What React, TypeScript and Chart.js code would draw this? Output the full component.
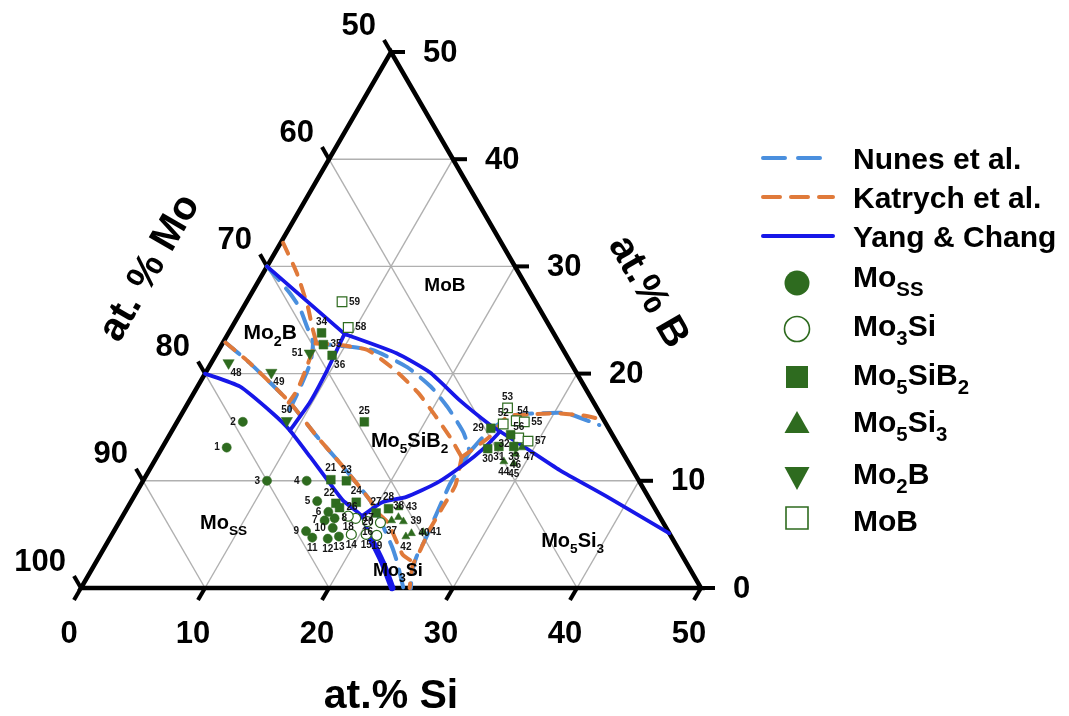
import React, { useEffect, useRef } from 'react';
import { Chart, registerables } from 'chart.js';

Chart.register(...registerables);

// ---------- axis ticks (at.%) ----------
const gridSteps = [10, 20, 30, 40];
const siTicks = [0, 10, 20, 30, 40, 50];
const moTicks = [50, 60, 70, 80, 90, 100];
const bTicks = [50, 40, 30, 20, 10, 0];

// ---------- sample points: [at.% Si, at.% B] ----------
const mossIds = [1, 2, 3, 4, 5, 6, 7, 8, 9, 10, 11, 12, 13];
const mossPts = [[5.2, 13.1], [5.3, 15.5], [10.0, 10.0], [13.2, 10.0], [15.0, 8.1], [16.4, 7.1], [16.5, 6.3], [17.2, 6.5], [15.5, 5.3], [17.5, 5.6], [16.3, 4.7], [17.6, 4.6], [18.4, 4.8]];

const mo3siIds = [14, 15, 16, 17, 18, 19, 20];
const mo3siPts = [[19.3, 5.0], [20.5, 5.0], [20.0, 6.2], [18.9, 6.5], [18.2, 6.7], [21.4, 4.9], [21.1, 6.1]];

const mo5sib2Ids = [21, 22, 23, 24, 25, 26, 27, 28, 29, 30, 31, 32, 33, 34, 35, 36];
const mo5sib2Pts = [[15.1, 10.1], [16.6, 7.9], [16.4, 10.0], [18.2, 8.0], [15.1, 15.5], [17.1, 7.5], [20.3, 7.0], [21.1, 7.4], [25.6, 14.9], [26.3, 13.0], [27.1, 13.2], [27.5, 14.3], [28.3, 13.2], [7.5, 23.8], [8.2, 22.7], [9.4, 21.7]];

const mo5si3Ids = [37, 38, 39, 40, 41, 42, 43, 44, 45, 46, 47];
const mo5si3Pts = [[21.9, 6.3], [22.3, 6.6], [22.9, 6.2], [24.1, 5.1], [25.0, 5.2], [23.8, 4.8], [21.9, 7.5], [28.2, 11.8], [29.1, 11.6], [28.8, 12.5], [29.0, 13.1]];

const mo2bIds = [48, 49, 50, 51];
const mo2bPts = [[1.4, 21.0], [5.3, 20.1], [8.8, 15.6], [7.5, 21.9]];

const mobIds = [52, 53, 54, 55, 56, 57, 58, 59];
const mobPts = [[26.4, 15.3], [26.0, 16.8], [27.3, 15.6], [28.0, 15.5], [28.3, 14.0], [29.2, 13.7], [9.4, 24.3], [7.7, 26.7]];

// ---------- phase boundaries: polylines of [at.% Si, at.% B] ----------
const nunesLines = [
  [[0, 30], [3.1, 27.5], [4.6, 26.1], [6.1, 24.3], [7.2, 23.0], [8.0, 21.0], [8.4, 18.0], [8.5, 16.6]],
  [[7.2, 23.0], [8.7, 22.7], [12.4, 22.2], [16.0, 20.6], [18.8, 18.8], [21.1, 16.9], [23.6, 14.5], [25.0, 12.7]],
  [[25.0, 12.7], [25.6, 14.7], [26.9, 16.1], [28.9, 16.3], [31.0, 16.3], [34.2, 15.2]],
  [[25.0, 12.7], [24.9, 9.8], [25.2, 7.0], [25.5, 4.5], [25.6, 2.9], [26.0, 1.4], [26.6, 0]],
  [[0.2, 22.9], [3.1, 21.0], [8.2, 17.3], [12.0, 14.1], [15.5, 11.3], [19.2, 8.2], [20.3, 7.1], [21.8, 5.4], [23.2, 3.8], [24.3, 2.4], [25.5, 0.7], [26.0, 0]],
];

const katrychLines = [
  [[0.2, 32.2], [2.7, 29.4], [5.2, 26.2], [6.5, 24.3], [7.5, 22.9], [7.6, 22.2], [7.9, 20.6], [8.2, 18.5], [8.1, 17.3]],
  [[7.5, 22.8], [9.3, 22.7], [12.0, 22.2], [15.2, 20.3], [18.1, 18.2], [20.5, 16.1], [22.7, 14.1], [24.6, 12.2]],
  [[24.6, 12.2], [25.9, 14.1], [26.4, 16.0], [28.1, 16.2], [30.2, 16.3], [32.4, 16.1], [34.3, 15.7]],
  [[24.6, 12.2], [25.4, 9.6], [25.4, 7.6], [25.4, 5.4], [25.6, 3.5], [25.7, 2.1], [26.5, 0]],
  [[0.2, 22.9], [3.1, 21.0], [8.2, 17.3], [12.0, 14.1], [15.5, 11.3], [19.2, 8.2], [20.3, 7.1], [21.7, 6.1], [23.4, 4.2], [24.4, 3.1], [25.6, 2.4]],
];

const yangLines = [
  [[0, 30], [9.4, 23.7]],
  [[9.4, 23.7], [14.5, 21.9], [18.1, 20.1], [21.8, 17.5], [25.4, 15.2], [26.5, 14.6], [29.1, 13.2], [33.1, 11.0], [38.2, 8.5], [44.9, 5.1]],
  [[9.4, 23.7], [9.7, 20.3], [9.8, 17.3], [9.5, 14.7]],
  [[0, 20], [3.4, 18.8], [7.3, 16.3], [9.5, 14.7], [12.4, 12.2], [14.8, 10.1], [17.0, 8.2], [19.3, 6.7], [20.9, 4.8], [23.2, 2.3], [25.1, 0]],
  [[19.3, 6.7], [20.3, 8.0], [22.0, 8.5], [23.8, 9.8], [25.1, 11.5], [26.0, 13.1], [26.5, 14.6]],
];
const yangThick = [[20.9, 4.8], [23.2, 2.3], [25.1, 0]];

// ---------- styling ----------
const FONT = '"Liberation Sans", Arial, Helvetica, sans-serif';
const GREEN = '#2e6b1f';
const NUNES = '#4a8fde';
const KATRYCH = '#e07a3a';
const YANG = '#1717e8';

const labelSide: Record<number, string> = {
  1: 'l', 2: 'l', 3: 'l', 4: 'l', 5: 'l', 6: 'l', 7: 'l', 8: 'r', 9: 'l', 10: 'l', 11: 'b', 12: 'b', 13: 'b',
  14: 'b', 15: 'b', 16: 'b', 17: 'r', 18: 'b', 19: 'b', 20: 'l',
  21: 't', 22: 'tl', 23: 't', 24: 't', 25: 't', 26: 'r', 27: 't', 28: 't', 29: 'l', 30: 'b', 31: 'b', 32: 'bl', 33: 'b', 34: 't', 35: 'r', 36: 'br',
  37: 'b', 38: 't', 39: 'r', 40: 'r', 41: 'r', 42: 'b', 43: 'r', 44: 'b', 45: 'b', 46: 'b', 47: 'br',
  48: 'br', 49: 'br', 50: 't', 51: 'l',
  52: 't', 53: 't', 54: 'tr', 55: 'r', 56: 't', 57: 'r', 58: 'r', 59: 'r',
};

type Part = { t: string; sub?: boolean };
const regionLabels: { parts: Part[]; si: number; b: number; size: number }[] = [
  { parts: [{ t: 'MoB' }], si: 15.2, b: 28.3, size: 19 },
  { parts: [{ t: 'Mo' }, { t: '2', sub: true }, { t: 'B' }], si: 3.3, b: 23.9, size: 21 },
  { parts: [{ t: 'Mo' }, { t: '5', sub: true }, { t: 'SiB' }, { t: '2', sub: true }], si: 19.6, b: 13.8, size: 20 },
  { parts: [{ t: 'Mo' }, { t: 'SS', sub: true }], si: 8.4, b: 6.2, size: 20 },
  { parts: [{ t: 'Mo' }, { t: '5', sub: true }, { t: 'Si' }, { t: '3', sub: true }], si: 37.4, b: 4.5, size: 20 },
  { parts: [{ t: 'Mo' }, { t: '3', sub: true }, { t: 'Si' }], si: 24.7, b: 1.7, size: 18 },
];

const toXY = (pts: number[][]) => pts.map(([si, b]) => ({ x: si + b / 2, y: b }));

function drawRich(ctx: CanvasRenderingContext2D, parts: Part[], x: number, yc: number, size: number, align: 'left' | 'center') {
  const sub = size * 0.68;
  let w = 0;
  parts.forEach((p) => {
    ctx.font = `bold ${p.sub ? sub : size}px ${FONT}`;
    w += ctx.measureText(p.t).width;
  });
  let cx = align === 'center' ? x - w / 2 : x;
  const base = yc + size * 0.358;
  ctx.textAlign = 'left';
  ctx.textBaseline = 'alphabetic';
  parts.forEach((p) => {
    ctx.font = `bold ${p.sub ? sub : size}px ${FONT}`;
    ctx.fillText(p.t, cx, p.sub ? base + size * 0.3 : base);
    cx += ctx.measureText(p.t).width;
  });
}

function drawMarker(ctx: CanvasRenderingContext2D, kind: string, x: number, y: number) {
  ctx.save();
  ctx.fillStyle = GREEN;
  ctx.strokeStyle = GREEN;
  ctx.lineWidth = 1.6;
  ctx.beginPath();
  if (kind === 'circle') {
    ctx.arc(x, y, 12.5, 0, Math.PI * 2);
    ctx.fill();
  } else if (kind === 'ocircle') {
    ctx.arc(x, y, 12.5, 0, Math.PI * 2);
    ctx.fillStyle = '#fff';
    ctx.fill();
    ctx.stroke();
  } else if (kind === 'rect') {
    ctx.rect(x - 11, y - 11, 22, 22);
    ctx.fill();
  } else if (kind === 'orect') {
    ctx.rect(x - 11, y - 11, 22, 22);
    ctx.fillStyle = '#fff';
    ctx.fill();
    ctx.stroke();
  } else if (kind === 'tri') {
    ctx.moveTo(x, y - 12);
    ctx.lineTo(x + 12.5, y + 10);
    ctx.lineTo(x - 12.5, y + 10);
    ctx.closePath();
    ctx.fill();
  } else if (kind === 'dtri') {
    ctx.moveTo(x - 12.5, y - 11);
    ctx.lineTo(x + 12.5, y - 11);
    ctx.lineTo(x, y + 12);
    ctx.closePath();
    ctx.fill();
  }
  ctx.restore();
}

const ternaryPlugin = {
  id: 'ternaryFrame',
  beforeDatasetsDraw(chart: any) {
    const ctx: CanvasRenderingContext2D = chart.ctx;
    const P = (si: number, b: number) => [chart.scales.x.getPixelForValue(si + b / 2), chart.scales.y.getPixelForValue(b)];
    const seg = (a: number[], c: number[]) => {
      ctx.beginPath();
      ctx.moveTo(a[0], a[1]);
      ctx.lineTo(c[0], c[1]);
      ctx.stroke();
    };
    ctx.save();
    ctx.strokeStyle = '#b0b0b0';
    ctx.lineWidth = 1.4;
    gridSteps.forEach((k) => {
      seg(P(0, k), P(50 - k, k));
      seg(P(k, 0), P(k, 50 - k));
      seg(P(k, 0), P(0, k));
    });
    ctx.strokeStyle = '#000';
    ctx.lineWidth = 4.5;
    ctx.lineJoin = 'miter';
    ctx.beginPath();
    const a = P(0, 0), b = P(50, 0), c = P(0, 50);
    ctx.moveTo(a[0], a[1]);
    ctx.lineTo(b[0], b[1]);
    ctx.lineTo(c[0], c[1]);
    ctx.closePath();
    ctx.stroke();
    ctx.lineWidth = 4;
    const L = 14, cx = 0.5, sy = Math.sqrt(3) / 2;
    siTicks.forEach((v) => { const p = P(v, 0); seg(p, [p[0] - cx * L, p[1] + sy * L]); });
    moTicks.forEach((m) => { const p = P(0, 100 - m); seg(p, [p[0] - cx * L, p[1] - sy * L]); });
    bTicks.forEach((v) => { const p = P(50 - v, v); seg(p, [p[0] + L, p[1]]); });

    ctx.fillStyle = '#000';
    ctx.font = `bold 31px ${FONT}`;
    ctx.textBaseline = 'middle';
    ctx.textAlign = 'right';
    moTicks.forEach((m) => { const p = P(0, 100 - m); ctx.fillText(String(m), p[0] - 15, p[1] - 26); });
    ctx.textAlign = 'left';
    bTicks.forEach((v) => { const p = P(50 - v, v); ctx.fillText(String(v), p[0] + 32, p[1] + 1); });
    ctx.textAlign = 'center';
    siTicks.forEach((v) => { const p = P(v, 0); ctx.fillText(String(v), p[0] - 12, p[1] + 46); });

    // axis titles
    ctx.font = `bold 40px ${FONT}`;
    ctx.save();
    ctx.translate(150, 268);
    ctx.rotate(-Math.PI / 3);
    ctx.fillText('at. % Mo', 0, 0);
    ctx.restore();
    ctx.save();
    ctx.translate(648, 292);
    ctx.rotate(Math.PI / 3);
    ctx.fillText('at.% B', 0, 0);
    ctx.restore();
    ctx.font = `bold 41px ${FONT}`;
    ctx.fillText('at.% Si', 391, 697);
    ctx.restore();
  },
  afterDatasetsDraw(chart: any) {
    const ctx: CanvasRenderingContext2D = chart.ctx;
    const P = (si: number, b: number) => [chart.scales.x.getPixelForValue(si + b / 2), chart.scales.y.getPixelForValue(b)];
    ctx.save();
    // sample numbers
    ctx.fillStyle = '#151515';
    ctx.font = `bold 10px ${FONT}`;
    ctx.textBaseline = 'middle';
    const groups = [
      [mossIds, mossPts], [mo3siIds, mo3siPts], [mo5sib2Ids, mo5sib2Pts],
      [mo5si3Ids, mo5si3Pts], [mo2bIds, mo2bPts], [mobIds, mobPts],
    ] as [number[], number[][]][];
    const r = 5;
    groups.forEach(([ids, pts]) => {
      ids.forEach((id, i) => {
        const [x, y] = P(pts[i][0], pts[i][1]);
        const s = labelSide[id] || 'r';
        let tx = x, ty = y;
        if (s === 'l') { ctx.textAlign = 'right'; tx = x - r - 2; }
        else if (s === 'r') { ctx.textAlign = 'left'; tx = x + r + 2; }
        else if (s === 't') { ctx.textAlign = 'center'; ty = y - r - 6; }
        else if (s === 'b') { ctx.textAlign = 'center'; ty = y + r + 6; }
        else if (s === 'tl') { ctx.textAlign = 'right'; tx = x - 1; ty = y - r - 5; }
        else if (s === 'tr') { ctx.textAlign = 'left'; tx = x + 1; ty = y - r - 5; }
        else if (s === 'bl') { ctx.textAlign = 'right'; tx = x - 1; ty = y + r + 5; }
        else if (s === 'br') { ctx.textAlign = 'left'; tx = x + 2; ty = y + r + 5; }
        ctx.fillText(String(id), tx, ty);
      });
    });
    // region labels
    ctx.fillStyle = '#000';
    regionLabels.forEach((lb) => {
      const [x, y] = P(lb.si, lb.b);
      drawRich(ctx, lb.parts, x, y, lb.size, 'center');
    });

    // legend
    const lx0 = 761, lx1 = 835, tx = 853;
    const lineItems = [
      { label: 'Nunes et al.', color: NUNES, dash: [22, 13], cap: 'round', y: 158 },
      { label: 'Katrych et al.', color: KATRYCH, dash: [17, 11], cap: 'round', y: 197 },
      { label: 'Yang & Chang', color: YANG, dash: [], cap: 'round', y: 236 },
    ];
    lineItems.forEach((it) => {
      ctx.save();
      ctx.strokeStyle = it.color;
      ctx.lineWidth = 4;
      ctx.lineCap = it.cap as CanvasLineCap;
      ctx.setLineDash(it.dash);
      ctx.beginPath();
      ctx.moveTo(lx0 + 2, it.y);
      ctx.lineTo(lx1 - 2, it.y);
      ctx.stroke();
      ctx.restore();
      ctx.fillStyle = '#000';
      drawRich(ctx, [{ t: it.label }], tx, it.y, 30, 'left');
    });
    const markerItems: { parts: Part[]; kind: string; my: number; ty: number }[] = [
      { parts: [{ t: 'Mo' }, { t: 'SS', sub: true }], kind: 'circle', my: 283, ty: 276 },
      { parts: [{ t: 'Mo' }, { t: '3', sub: true }, { t: 'Si' }], kind: 'ocircle', my: 329, ty: 325 },
      { parts: [{ t: 'Mo' }, { t: '5', sub: true }, { t: 'SiB' }, { t: '2', sub: true }], kind: 'rect', my: 377, ty: 374 },
      { parts: [{ t: 'Mo' }, { t: '5', sub: true }, { t: 'Si' }, { t: '3', sub: true }], kind: 'tri', my: 423, ty: 421 },
      { parts: [{ t: 'Mo' }, { t: '2', sub: true }, { t: 'B' }], kind: 'dtri', my: 478, ty: 473 },
      { parts: [{ t: 'MoB' }], kind: 'orect', my: 518, ty: 520 },
    ];
    markerItems.forEach((it) => {
      drawMarker(ctx, it.kind, 797, it.my);
      ctx.fillStyle = '#000';
      drawRich(ctx, it.parts, tx, it.ty, 30, 'left');
    });
    ctx.restore();
  },
};

function lineSets(lines: number[][][], color: string, width: number, dash: number[], order: number) {
  return lines.map((pts) => ({
    data: toXY(pts),
    showLine: true,
    borderColor: color,
    borderWidth: width,
    borderDash: dash,
    borderCapStyle: 'round',
    borderJoinStyle: 'round',
    pointRadius: 0,
    tension: 0.18,
    fill: false,
    clip: false,
    order,
  }));
}

export default function App() {
  const ref = useRef<HTMLCanvasElement | null>(null);
  useEffect(() => {
    if (!ref.current) return;
    const pointSet = (pts: number[][], style: string, radius: number, filled: boolean, rotation = 0) => ({
      data: toXY(pts),
      showLine: false,
      pointStyle: style,
      pointRadius: radius,
      pointRotation: rotation,
      pointBackgroundColor: filled ? GREEN : '#ffffff',
      pointBorderColor: GREEN,
      pointBorderWidth: filled ? 0.5 : 1.2,
      clip: false,
      order: 0,
    });
    const datasets: any[] = [
      pointSet(mossPts, 'circle', 4.6, true),
      pointSet(mo3siPts, 'circle', 5.0, false),
      pointSet(mo5sib2Pts, 'rect', 6.2, true),
      pointSet(mo5si3Pts, 'triangle', 4.6, true),
      pointSet(mo2bPts, 'triangle', 6.5, true, 180),
      pointSet(mobPts, 'rect', 6.8, false),
      ...lineSets(yangLines, YANG, 3.8, [], 1),
      ...lineSets([yangThick], YANG, 6.5, [], 1),
      ...lineSets(katrychLines, KATRYCH, 4, [12, 11], 2),
      ...lineSets(nunesLines, NUNES, 4, [18, 11], 3),
    ];
    const chart = new Chart(ref.current, {
      type: 'scatter',
      data: { datasets },
      options: {
        animation: false,
        responsive: false,
        devicePixelRatio: 1,
        events: [],
        layout: { padding: { left: 81, top: 52, right: 368, bottom: 128 } },
        scales: {
          x: { type: 'linear', min: 0, max: 50, display: false },
          y: { type: 'linear', min: 0, max: 50, display: false },
        },
        plugins: { legend: { display: false }, tooltip: { enabled: false } },
      } as any,
      plugins: [ternaryPlugin],
    });
    return () => chart.destroy();
  }, []);
  return (
    <div style={{ position: 'absolute', left: 0, top: 0, width: 1069, height: 716, background: '#fff' }}>
      <canvas ref={ref} width={1069} height={716} style={{ display: 'block' }} />
    </div>
  );
}
